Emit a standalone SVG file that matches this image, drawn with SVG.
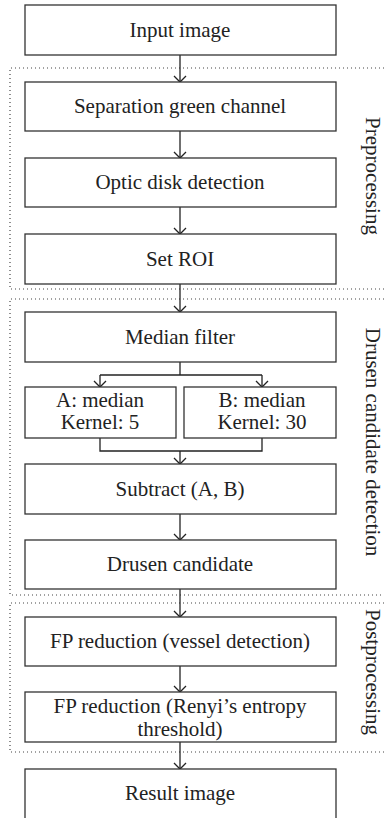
<svg xmlns="http://www.w3.org/2000/svg" width="384" height="818" viewBox="0 0 384 818">
<style>
.box{fill:#fff;stroke:#333;stroke-width:1.3}
.t{font-family:"Liberation Serif",serif;font-size:21px;fill:#222;text-anchor:middle}
.lab{font-family:"Liberation Serif",serif;font-size:21px;fill:#222;text-anchor:middle}
.dot{fill:none;stroke:#444;stroke-width:1.2;stroke-dasharray:1 3}
.c{fill:none;stroke:#222;stroke-width:1.3}
</style>
<defs>
<marker id="ah" markerWidth="10" markerHeight="14" refX="8" refY="7" orient="auto" markerUnits="userSpaceOnUse" viewBox="0 0 10 14">
<path d="M2,1 L8,7 L2,13" fill="none" stroke="#222" stroke-width="1.3"/>
</marker>
</defs>
<rect width="384" height="818" fill="#fff"/>
<g id="regions">
<path class="dot" d="M384,68 H10 V289 H384"/>
<path class="dot" d="M384,299 H10 V595 H384"/>
<path class="dot" d="M384,603 H10 V752 H384"/>
<text class="lab" transform="translate(366,176) rotate(90)">Preprocessing</text>
<text class="lab" transform="translate(366,442) rotate(90)">Drusen candidate detection</text>
<text class="lab" transform="translate(366,672) rotate(90)">Postprocessing</text>
</g>
<g id="connectors">
<line class="c" x1="180" y1="55" x2="180" y2="82" marker-end="url(#ah)"/>
<line class="c" x1="180" y1="131" x2="180" y2="158" marker-end="url(#ah)"/>
<line class="c" x1="180" y1="207" x2="180" y2="234" marker-end="url(#ah)"/>
<line class="c" x1="180" y1="284" x2="180" y2="312" marker-end="url(#ah)"/>
<line class="c" x1="180" y1="362" x2="180" y2="375"/>
<path class="c" d="M100,375 H262"/>
<line class="c" x1="100" y1="375" x2="100" y2="387" marker-end="url(#ah)"/>
<line class="c" x1="262" y1="375" x2="262" y2="387" marker-end="url(#ah)"/>
<path class="c" d="M100,438 V451 H262 V438"/>
<line class="c" x1="180" y1="451" x2="180" y2="464" marker-end="url(#ah)"/>
<line class="c" x1="180" y1="514" x2="180" y2="540" marker-end="url(#ah)"/>
<line class="c" x1="180" y1="589" x2="180" y2="617" marker-end="url(#ah)"/>
<line class="c" x1="180" y1="666" x2="180" y2="692" marker-end="url(#ah)"/>
<line class="c" x1="180" y1="742" x2="180" y2="769" marker-end="url(#ah)"/>
</g>
<g id="input"><rect class="box" x="25" y="5" width="311" height="50"/><text class="t" x="180" y="37">Input image</text></g>
<g id="green"><rect class="box" x="25" y="82" width="311" height="49"/><text class="t" x="180" y="113">Separation green channel</text></g>
<g id="optic"><rect class="box" x="25" y="158" width="311" height="49"/><text class="t" x="180" y="189">Optic disk detection</text></g>
<g id="roi"><rect class="box" x="25" y="234" width="311" height="50"/><text class="t" x="180" y="266">Set ROI</text></g>
<g id="median"><rect class="box" x="25" y="312" width="311" height="50"/><text class="t" x="180" y="344">Median filter</text></g>
<g id="a"><rect class="box" x="25" y="387" width="151" height="51"/><text class="t" x="100" y="407">A: median</text><text class="t" x="100" y="429">Kernel: 5</text></g>
<g id="b"><rect class="box" x="184" y="387" width="152" height="51"/><text class="t" x="262" y="407">B: median</text><text class="t" x="262" y="429">Kernel: 30</text></g>
<g id="subtract"><rect class="box" x="25" y="464" width="311" height="50"/><text class="t" x="180" y="496">Subtract (A, B)</text></g>
<g id="candidate"><rect class="box" x="25" y="540" width="311" height="49"/><text class="t" x="180" y="571">Drusen candidate</text></g>
<g id="fp1"><rect class="box" x="25" y="617" width="311" height="49"/><text class="t" x="180" y="648">FP reduction (vessel detection)</text></g>
<g id="fp2"><rect class="box" x="25" y="692" width="311" height="50"/><text class="t" x="180" y="713">FP reduction (Renyi’s entropy</text><text class="t" x="180" y="736">threshold)</text></g>
<g id="result"><rect class="box" x="25" y="769" width="311" height="52"/><text class="t" x="180" y="800">Result image</text></g>
</svg>
